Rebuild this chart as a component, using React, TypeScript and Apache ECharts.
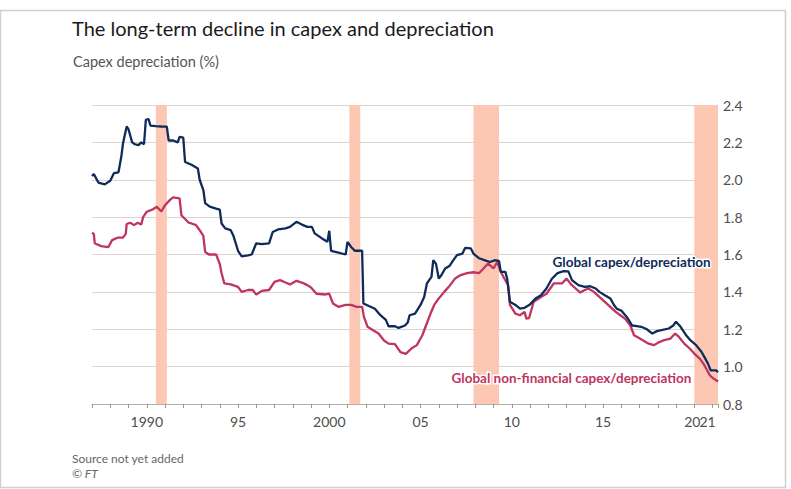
import React, { useEffect, useRef } from "react";
import * as echarts from "echarts";

const title = "The long-term decline in capex and depreciation";
const subtitle = "Capex depreciation (%)";
const sourceText = "Source not yet added";
const copyrightText = "© FT";
const globalLabel = "Global capex/depreciation";
const nonFinLabel = "Global non-financial capex/depreciation";

const yTicks = [0.8, 1.0, 1.2, 1.4, 1.6, 1.8, 2.0, 2.2, 2.4];
const xLabels: Record<number, string> = { 1990: "1990", 1995: "95", 2000: "2000", 2005: "05", 2010: "10", 2015: "15", 2020: "20", 2021: "21" };

const recessions: [number, number][] = [
  [1990.5, 1991.1],
  [2001.1, 2001.7],
  [2007.9, 2009.3],
  [2020.0, 2021.3],
];

const globalCapex: [number, number][] = [
  [1987.0, 2.02], [1987.1, 2.03], [1987.35, 1.985], [1987.7, 1.975], [1988.0, 1.995], [1988.2, 2.035],
  [1988.45, 2.04], [1988.6, 2.12], [1988.7, 2.195], [1988.9, 2.285], [1989.0, 2.27], [1989.2, 2.2],
  [1989.35, 2.19], [1989.55, 2.185], [1989.7, 2.2], [1989.85, 2.19], [1989.95, 2.32], [1990.1, 2.325],
  [1990.2, 2.29], [1990.5, 2.287], [1990.8, 2.285], [1991.1, 2.284], [1991.2, 2.21], [1991.45, 2.21],
  [1991.7, 2.2], [1991.8, 2.23], [1992.0, 2.225], [1992.1, 2.095], [1992.45, 2.08], [1992.8, 2.06],
  [1992.9, 2.0], [1993.1, 1.945], [1993.2, 1.875], [1993.45, 1.856], [1993.8, 1.845], [1994.0, 1.84],
  [1994.1, 1.766], [1994.3, 1.74], [1994.6, 1.73], [1994.75, 1.7], [1995.0, 1.62], [1995.2, 1.59],
  [1995.55, 1.595], [1995.75, 1.6], [1996.0, 1.66], [1996.3, 1.655], [1996.7, 1.66], [1996.9, 1.72],
  [1997.2, 1.734], [1997.6, 1.74], [1997.85, 1.748], [1998.2, 1.775], [1998.5, 1.76], [1998.8, 1.748],
  [1999.05, 1.748], [1999.2, 1.713], [1999.6, 1.686], [1999.9, 1.668], [2000.0, 1.727], [2000.1, 1.62],
  [2000.5, 1.61], [2000.9, 1.6], [2001.0, 1.668], [2001.2, 1.64], [2001.4, 1.62], [2001.8, 1.62],
  [2001.87, 1.338], [2002.2, 1.323], [2002.5, 1.31], [2002.8, 1.275], [2003.1, 1.25], [2003.25, 1.216],
  [2003.6, 1.216], [2003.8, 1.207], [2004.15, 1.22], [2004.3, 1.236], [2004.4, 1.275], [2004.7, 1.284],
  [2005.0, 1.33], [2005.2, 1.373], [2005.35, 1.445], [2005.6, 1.48], [2005.7, 1.57], [2005.85, 1.55],
  [2006.0, 1.472], [2006.15, 1.49], [2006.35, 1.525], [2006.6, 1.54], [2006.8, 1.57], [2007.0, 1.597],
  [2007.3, 1.605], [2007.45, 1.636], [2007.75, 1.633], [2007.9, 1.605], [2008.2, 1.58], [2008.5, 1.57],
  [2008.8, 1.56], [2009.1, 1.57], [2009.3, 1.565], [2009.4, 1.507], [2009.65, 1.507], [2009.75, 1.47],
  [2009.9, 1.347], [2010.2, 1.33], [2010.45, 1.31], [2010.7, 1.315], [2011.0, 1.333], [2011.3, 1.365],
  [2011.6, 1.382], [2011.9, 1.418], [2012.2, 1.47], [2012.5, 1.5], [2012.85, 1.511], [2013.1, 1.51],
  [2013.3, 1.463], [2013.65, 1.436], [2014.0, 1.427], [2014.3, 1.43], [2014.6, 1.418], [2014.8, 1.4],
  [2015.1, 1.382], [2015.4, 1.365], [2015.6, 1.33], [2015.75, 1.31], [2016.0, 1.3], [2016.3, 1.266],
  [2016.6, 1.22], [2016.85, 1.217], [2017.1, 1.213], [2017.4, 1.2], [2017.7, 1.177], [2017.95, 1.19],
  [2018.2, 1.195], [2018.6, 1.204], [2018.85, 1.22], [2019.0, 1.24], [2019.25, 1.213], [2019.55, 1.168],
  [2019.8, 1.14], [2020.1, 1.115], [2020.4, 1.078], [2020.55, 1.052], [2020.75, 1.016], [2020.9, 0.98],
  [2021.2, 0.98], [2021.3, 0.97],
];

const nonFinCapex: [number, number][] = [
  [1987.0, 1.716], [1987.1, 1.71], [1987.15, 1.66], [1987.5, 1.645], [1987.9, 1.64], [1988.1, 1.677],
  [1988.4, 1.69], [1988.7, 1.69], [1988.85, 1.71], [1988.9, 1.763], [1989.1, 1.77], [1989.3, 1.757],
  [1989.5, 1.77], [1989.7, 1.76], [1989.8, 1.8], [1990.0, 1.829], [1990.3, 1.84], [1990.55, 1.855],
  [1990.8, 1.83], [1991.0, 1.864], [1991.3, 1.895], [1991.45, 1.906], [1991.8, 1.9], [1991.9, 1.81],
  [1992.1, 1.79], [1992.3, 1.77], [1992.45, 1.766], [1992.7, 1.757], [1992.9, 1.73], [1993.1, 1.7],
  [1993.2, 1.614], [1993.4, 1.6], [1993.8, 1.6], [1994.0, 1.55], [1994.1, 1.5], [1994.25, 1.445],
  [1994.6, 1.44], [1995.0, 1.427], [1995.2, 1.4], [1995.55, 1.41], [1995.8, 1.41], [1996.0, 1.386],
  [1996.3, 1.405], [1996.7, 1.41], [1997.0, 1.454], [1997.3, 1.463], [1997.6, 1.45], [1997.85, 1.44],
  [1998.2, 1.459], [1998.5, 1.45], [1998.8, 1.436], [1999.0, 1.423], [1999.3, 1.39], [1999.8, 1.386],
  [2000.0, 1.39], [2000.2, 1.338], [2000.5, 1.32], [2000.9, 1.33], [2001.2, 1.33], [2001.5, 1.32],
  [2001.8, 1.32], [2001.9, 1.266], [2002.1, 1.213], [2002.4, 1.195], [2002.7, 1.177], [2003.0, 1.14],
  [2003.25, 1.123], [2003.6, 1.12], [2003.9, 1.078], [2004.2, 1.068], [2004.5, 1.097], [2004.8, 1.115],
  [2005.1, 1.168], [2005.3, 1.22], [2005.55, 1.284], [2005.75, 1.33], [2006.0, 1.365], [2006.3, 1.4],
  [2006.55, 1.427], [2006.9, 1.472], [2007.2, 1.49], [2007.55, 1.5], [2007.9, 1.505], [2008.2, 1.5],
  [2008.45, 1.525], [2008.7, 1.552], [2009.0, 1.525], [2009.2, 1.56], [2009.4, 1.507], [2009.6, 1.47],
  [2009.8, 1.436], [2009.9, 1.33], [2010.2, 1.284], [2010.45, 1.275], [2010.7, 1.293], [2010.8, 1.257],
  [2010.95, 1.26], [2011.2, 1.347], [2011.6, 1.373], [2011.9, 1.39], [2012.3, 1.445], [2012.75, 1.445],
  [2013.0, 1.472], [2013.25, 1.44], [2013.5, 1.418], [2013.75, 1.396], [2014.0, 1.41], [2014.2, 1.418],
  [2014.5, 1.4], [2014.8, 1.373], [2015.1, 1.347], [2015.4, 1.32], [2015.7, 1.293], [2015.95, 1.275],
  [2016.2, 1.257], [2016.5, 1.22], [2016.7, 1.168], [2016.95, 1.154], [2017.2, 1.14], [2017.5, 1.123],
  [2017.8, 1.115], [2018.05, 1.13], [2018.3, 1.14], [2018.7, 1.15], [2018.95, 1.177], [2019.15, 1.16],
  [2019.45, 1.123], [2019.75, 1.097], [2020.0, 1.07], [2020.3, 1.043], [2020.5, 1.016], [2020.65, 0.99],
  [2020.85, 0.954], [2021.05, 0.936], [2021.3, 0.92],
];

const NAVY = "#0f2b5b";
const CLARET = "#c0345f";
const FONT = "Lato";
const LABEL_GREY = "#4d4d4d";

export default function App() {
  const ref = useRef<HTMLDivElement>(null);
  useEffect(() => {
    if (!ref.current) return;
    const chart = echarts.init(ref.current, undefined, { renderer: "svg" });
    chart.setOption({
      animation: false,
      backgroundColor: "#ffffff",
      textStyle: { fontFamily: FONT },
      grid: { left: 92, right: 73, top: 105, bottom: 85, containLabel: false },
      xAxis: {
        type: "value",
        min: 1987,
        max: 2021.3,
        interval: 1,
        splitLine: { show: false },
        axisLine: { show: true, lineStyle: { color: "#b9afa9", width: 1 } },
        axisTick: { show: true, length: 4, lineStyle: { color: "#9d9590" } },
        axisLabel: {
          margin: 10,
          fontSize: 14,
          color: LABEL_GREY,
          fontFamily: FONT,
          formatter: (v: number) => {
            const s = xLabels[Math.round(v)];
            if (!s || Math.abs(v - Math.round(v)) > 1e-6) return "";
            if (Math.round(v) === 2020) return "{a|" + s + "}";
            if (Math.round(v) === 2021) return "{b|" + s + "}";
            return s;
          },
          rich: {
            a: { fontSize: 14, color: LABEL_GREY, fontFamily: FONT, padding: [0, 4, 0, 0] },
            b: { fontSize: 14, color: LABEL_GREY, fontFamily: FONT, padding: [0, 10, 0, 0] },
          },
        },
      },
      yAxis: {
        type: "value",
        position: "right",
        min: yTicks[0],
        max: yTicks[yTicks.length - 1],
        interval: 0.2,
        axisLine: { show: false },
        axisTick: { show: false },
        splitLine: { show: true, lineStyle: { color: "#ddd3cd", width: 1.2 } },
        axisLabel: {
          margin: 5,
          fontSize: 14,
          color: LABEL_GREY,
          fontFamily: FONT,
          formatter: (v: number) => v.toFixed(1),
        },
      },
      series: [
        {
          type: "line",
          name: nonFinLabel,
          data: nonFinCapex,
          showSymbol: false,
          symbol: "none",
          lineStyle: { color: CLARET, width: 2.3 },
          z: 3,
          markArea: {
            silent: true,
            itemStyle: { color: "#fcc8b4" },
            data: recessions.map(([a, b]) => [{ xAxis: a }, { xAxis: b }]),
          },
        },
        {
          type: "line",
          name: globalLabel,
          data: globalCapex,
          showSymbol: false,
          symbol: "none",
          lineStyle: { color: NAVY, width: 2.3 },
          z: 4,
        },
      ],
      graphic: [
        {
          type: "rect",
          shape: { x: 0.5, y: 10.5, width: 785, height: 477 },
          style: { fill: "none", stroke: "#cfcfcf", lineWidth: 1.5 },
          silent: true,
        },
        {
          type: "text",
          left: 72,
          top: 18,
          style: { text: title, fontSize: 20, fontFamily: FONT, fill: "#1a1a1a" },
        },
        {
          type: "text",
          left: 73,
          top: 54,
          style: { text: subtitle, fontSize: 14.5, fontFamily: FONT, fill: "#555555" },
        },
        {
          type: "text",
          left: 551,
          top: 253,
          style: {
            text: globalLabel,
            fontSize: 13.5,
            fontWeight: "bold",
            fontFamily: FONT,
            fill: NAVY,
            stroke: "#ffffff",
            lineWidth: 3,
          },
          z: 10,
        },
        {
          type: "text",
          left: 450,
          top: 369,
          style: {
            text: nonFinLabel,
            fontSize: 13.5,
            fontWeight: "bold",
            fontFamily: FONT,
            fill: CLARET,
            stroke: "#ffffff",
            lineWidth: 3,
          },
          z: 10,
        },
        {
          type: "text",
          left: 72,
          top: 452,
          style: { text: sourceText, fontSize: 12, fontFamily: FONT, fill: "#666666" },
        },
        {
          type: "text",
          left: 72,
          top: 467,
          style: { text: copyrightText, fontSize: 12, fontStyle: "italic", fontFamily: FONT, fill: "#666666" },
        },
      ],
    });
    return () => chart.dispose();
  }, []);
  return <div ref={ref} style={{ position: "fixed", left: 0, top: 0, width: 791, height: 489 }} />;
}
